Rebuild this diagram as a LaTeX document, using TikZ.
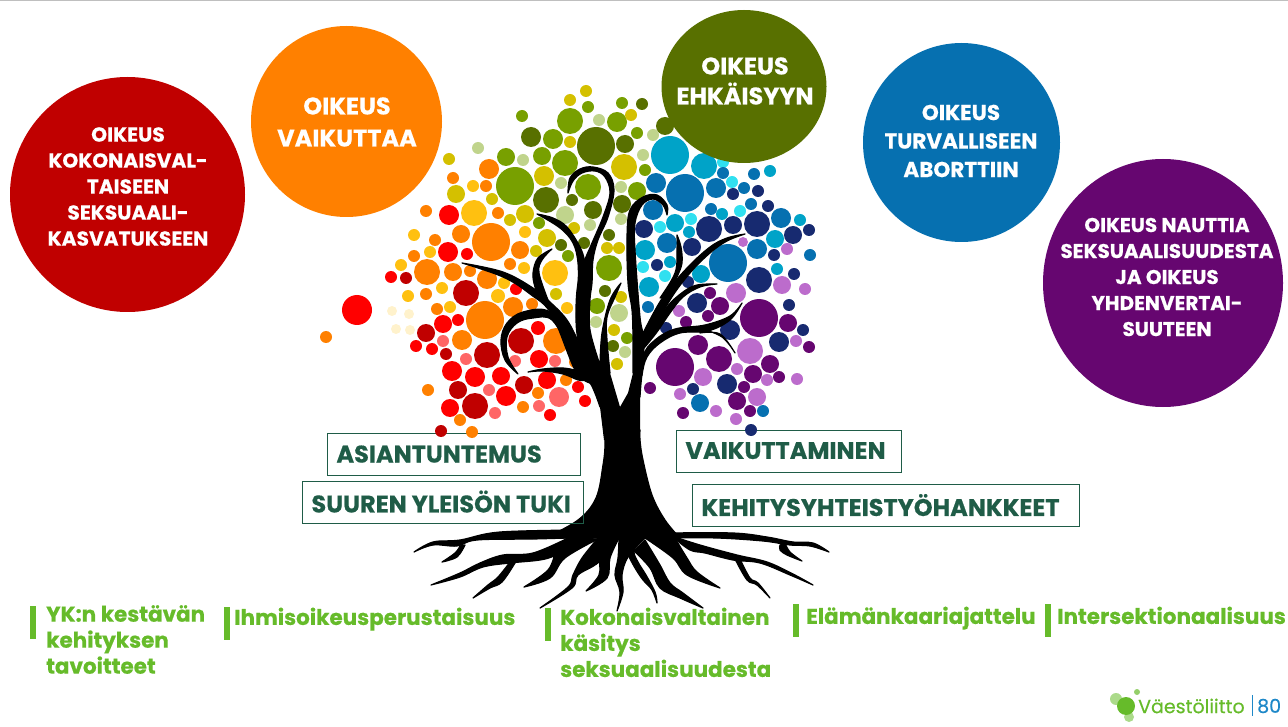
\documentclass[tikz,border=0pt]{standalone}
\usepackage{fontspec}
\setmainfont{Poppins}[BoldFeatures={FakeBold=0.5}]
\definecolor{cRedDark}{HTML}{C00000}
\definecolor{cRed}{HTML}{FF0000}
\definecolor{cPink}{HTML}{FF6666}
\definecolor{cOrange}{HTML}{FF8000}
\definecolor{cAmber}{HTML}{FFC010}
\definecolor{cCream}{HTML}{FFF2CC}
\definecolor{cMustard}{HTML}{D4C000}
\definecolor{cGreen}{HTML}{78A000}
\definecolor{cOlive}{HTML}{587000}
\definecolor{cSage}{HTML}{C0D48C}
\definecolor{cTeal}{HTML}{00A3C8}
\definecolor{cBlue}{HTML}{0670B0}
\definecolor{cNavy}{HTML}{172A70}
\definecolor{cAqua}{HTML}{30E0F0}
\definecolor{cPurple}{HTML}{660670}
\definecolor{cViolet}{HTML}{BC6CCC}
\definecolor{cBoxGreen}{HTML}{1F5C47}
\definecolor{cLime}{HTML}{66BB2A}
\definecolor{cLogoBlue}{HTML}{1E88C8}
\newcommand{\treeLimb}[2]{\filldraw[black, line width=1.2pt, line join=round] plot[smooth,tension=0.6] coordinates {#1} -- plot[smooth,tension=0.6] coordinates {#2} -- cycle;}
\newcommand{\leafDots}[2]{\foreach \x/\y/\r in {#2} {\fill[#1] (\x,\y) circle[radius=\r];}}

\begin{document}
\begin{tikzpicture}[x=1pt, y=-1pt]
	\tikzstyle{rightStyle}=[text=white, align=center, inner sep=0pt]
	\tikzstyle{boxStyle}=[draw=cBoxGreen, line width=0.9pt, text=cBoxGreen, anchor=west, minimum height=42pt, inner sep=0pt, align=left, font=\fontsize{24}{26}\selectfont\bfseries]
	\tikzstyle{barStyle}=[fill=cLime, minimum width=6pt, minimum height=33pt, inner sep=0pt]
	\tikzstyle{valueStyle}=[text=cLime, align=left, anchor=north west, inner sep=0pt, font=\fontsize{21.5}{26}\selectfont\bfseries]
	\useasboundingbox (0,0) rectangle (1288,727);
	\draw[black!25, line width=1pt] (0,0.5) -- (1288,0.5);
	% boxes behind the crown
	\node[boxStyle, text width=252.5pt] (boxExpert) at (327,454.5) {\hspace{9pt}\raisebox{1pt}{ASIANTUNTEMUS}};
	\node[boxStyle, text width=224.5pt] (boxAdvocacy) at (676,451) {\hspace{9pt}\raisebox{1pt}{VAIKUTTAMINEN}};
	% warm side of the crown
	\leafDots{cRed}{357/310/15,449/215/10,448/252/10,467/254/6,391/277/6,516/289/6,443/324/9,458/320/6,416/346/6,432/349/6,538/328/7,539/359/9,452/371/10,475/377/10,501/376/9,547/380/9,578/387/6,585/401/6,506/396/10,450/408/9,550/415/6}
	\leafDots{cRedDark}{406/278/6,466/293/13,426/333/9,446/354/6,487/355/13,521/341/13,524/385/9,458/390/9,475/406/13,441/431/6}
	\leafDots{cPink}{443/341/6,466/359/6,515/361/6,555/361/6,489/390/6,559/397/10,539/406/6,495/413/6}
	\leafDots{cOrange}{489/169/10,453/178/6,486/186/6,498/213/6,426/211/6,461/234/9,491/242/19,435/240/6,520/250/9,414/256/6,326/337/6,427/272/13,453/272/9,470/271/6,487/279/10,426/294/6,510/264/6,437/309/6,485/320/19,513/307/10,532/304/6,462/340/10,556/341/13,575/362/6,566/380/6,428/390/6,538/393/6,523/407/6,460/420/6,472/432/6}
	\leafDots{cAmber}{473/186/6,474/213/13,414/235/6,525/232/6,430/252/6,401/265/6,504/283/6,442/288/6,408/296/6,498/296/7,524/268/6,450/307/6,555/273/13,567/308/6}
	\leafDots{cCream}{392/311/5,409/314/5,396/329/5,410/330/5}
	% green top of the crown
	\leafDots{cGreen}{522/116/6,553/139/10,570/121/13,542/156/9,506/157/9,565/163/13,515/186/19,539/223/6,568/256/6,588/107/6,622/103/6,617/122/10,637/133/6,645/170/6,588/187/13,637/191/9,609/268/13,597/306/8,627/338/6}
	\leafDots{cOlive}{531/137/10,546/200/13,572/200/6,561/245/6,642/104/6,596/146/19,625/144/9,665/126/9,622/204/9,593/210/9,609/235/6,584/243/6,605/291/6,613/346/6}
	\leafDots{cMustard}{570/100/6,570/142/6,449/159/6,456/194/9,544/176/10,492/199/6,525/214/9,510/220/6,574/228/6,547/238/9,536/251/6,586/91/6,631/115/6,624/167/13,607/248/6,619/248/6,556/294/6,621/297/6,614/330/6,617/364/6}
	\leafDots{cSage}{478/148/6,523/160/6,561/183/6,565/215/9,599/120/6,653/135/6,643/155/6,621/187/6,621/219/6,590/225/6,619/313/9,596/322/6,625/352/6}
	% cold side of the crown
	\leafDots{cAqua}{723/162/6,732/182/6,740/211/6,691/219/6,660/227/6,643/267/6,665/276/6}
	\leafDots{cTeal}{670/155/19,704/166/13,770/171/6,722/214/6,800/220/6,675/223/9,689/232/6,775/239/9,645/250/10,649/287/10,670/262/6,701/274/9,777/269/6}
	\leafDots{cBlue}{723/173/6,656/183/10,685/193/19,716/188/10,754/174/6,744/188/6,653/210/10,711/209/6,751/204/6,781/218/10,667/243/10,757/249/10,810/255/6,728/263/19,648/307/6,700/403/9,763/411/6}
	\leafDots{cNavy}{733/194/6,758/191/6,768/206/6,809/230/6,793/235/9,757/224/13,733/225/9,709/229/13,644/229/9,692/247/9,774/255/6,657/265/6,688/282/6,759/280/13,794/274/6,697/303/10,666/328/6,789/305/6,730/330/10,803/330/6,779/342/10,727/384/10,693/389/6,751/430/6}
	\leafDots{cViolet}{743/242/5,787/249/6,782/285/9,805/289/6,736/293/10,679/311/6,750/351/13,796/341/6,737/369/6,703/377/9,767/380/6,797/379/6,680/394/6,757/397/9,716/411/6,736/419/6}
	\leafDots{cPurple}{710/293/6,720/306/9,708/316/6,686/322/6,759/318/19,788/323/9,809/347/6,698/345/10,719/359/13,675/367/19,770/364/9,753/374/9,779/377/6,744/387/6,650/388/6,737/401/9,683/413/6,750/411/6}
	% trunk and limbs
	\treeLimb{(604,430)(605,445)(603,465)(596,498)(578,520)(545,538)}{(680,538)(665,520)(652,495)(643,460)(640,440)(640,430)}
	\fill[black] (590,373) -- (600,360) -- (607,340) -- (610,373) -- (620,407) -- (628,393) -- (633,373) -- (633,340) -- (644,340) -- (640,397) -- (640,440) -- (604,440) -- (600,407) -- cycle;
	\treeLimb{(600,365)(590,330)(590,300)(592,283)(593,260)(598,240)(608,217)(614,190)(608,173)(593,167)(580,169)(570,178)(568,193)}{(568,193)(573,181)(582,173)(595,171)(605,177)(610,193)(603,217)(592,243)(584,262)(578,283)(576,310)(578,340)(590,383)}
	\treeLimb{(590,285)(585,262)(580,247)(567,227)(553,218)(537,214)}{(537,214)(560,228)(573,243)(578,263)(578,290)}
	\treeLimb{(462,263)(503,272)(533,288)(550,302)(567,320)(580,345)(594,375)}{(590,383)(575,370)(552,315)(530,294)(503,277)(462,263)}
	\treeLimb{(552,249)(538,258)(533,273)(535,287)(540,296)}{(548,300)(539,273)(542,260)(552,249)}
	\treeLimb{(575,345)(550,312)(523,312)(507,323)(501,340)(505,360)(518,374)}{(518,374)(508,357)(507,337)(517,323)(533,318)(552,320)(570,350)}
	\treeLimb{(528,372)(543,369)(563,368)(578,371)(590,376)(600,390)}{(600,407)(590,383)(578,380)(563,374)(543,371)(528,372)}
	\treeLimb{(600,365)(602,333)(610,300)(621,283)}{(621,283)(615,297)(607,317)(607,340)(610,373)}
	\treeLimb{(633,373)(633,340)(632,310)(628,283)(627,237)(630,210)(643,197)(657,195)(667,205)(667,215)}{(667,215)(663,205)(653,199)(642,205)(635,223)(635,250)(640,317)(644,340)(642,375)}
	\treeLimb{(640,340)(643,333)(663,297)(687,268)(710,247)(727,238)(745,234)}{(745,234)(727,241)(710,253)(690,273)(670,300)(650,337)(642,352)}
	\treeLimb{(677,235)(681,247)(682,263)(677,277)(668,296)}{(660,298)(675,273)(677,250)(677,235)}
	\treeLimb{(648,335)(652,333)(667,307)(683,292)(697,285)(717,284)}{(717,284)(700,287)(683,297)(670,313)(657,332)(645,347)}
	\treeLimb{(640,397)(643,357)(655,340)(675,329)(705,325)(730,316)(742,303)}{(742,303)(730,320)(708,331)(680,333)(660,343)(647,357)(642,375)(640,397)}
	\treeLimb{(700,328)(722,337)(735,353)}{(735,353)(720,334)(700,333)}
	% roots
	\treeLimb{(583,530)(500,532)(460,540)(433,542)(414,552)}{(414,552)(433,545)(457,546)(477,540)(533,539)(568,538)}
	\treeLimb{(460,546)(455,553)(442,562)}{(442,562)(457,557)(465,545)}
	\treeLimb{(568,538)(533,553)(503,555)(480,563)(460,573)(431,585)}{(431,585)(460,577)(483,567)(510,563)(540,560)(557,555)(598,539)}
	\treeLimb{(510,562)(498,577)(488,585)(473,598)}{(473,598)(490,588)(502,582)(515,563)}
	\treeLimb{(555,552)(548,570)(524,587)}{(524,587)(550,578)(565,558)(598,539)}
	\treeLimb{(598,538)(582,558)(573,575)(568,587)(540,608)}{(540,608)(572,588)(578,575)(599,562)(619,538)}
	\treeLimb{(599,560)(599,575)(586,591)}{(586,591)(607,578)(610,558)(619,538)}
	\treeLimb{(619,538)(618,558)(615,575)(620,592)(617,611)}{(617,611)(623,592)(622,575)(628,557)(645,538)}
	\treeLimb{(628,555)(635,568)(643,580)(652,590)(657,603)}{(657,603)(655,592)(646,575)(638,562)(634,551)(640,538)}
	\treeLimb{(634,551)(650,568)(660,588)(680,598)(703,608)}{(703,608)(683,593)(670,583)(660,565)(645,540)}
	\treeLimb{(645,538)(673,558)(687,575)(720,588)}{(720,588)(697,572)(687,558)(675,538)}
	\treeLimb{(673,537)(690,550)(705,553)(733,560)(760,563)(790,575)(813,585)}{(813,585)(793,574)(767,562)(737,555)(700,545)(675,537)}
	\treeLimb{(735,559)(747,580)(757,585)(770,598)}{(770,598)(758,583)(750,578)(740,559)}
	\treeLimb{(670,533)(733,533)(767,537)(793,542)(813,543)(829,552)}{(829,552)(810,546)(790,545)(763,541)(717,538)(674,538)}
	\treeLimb{(780,545)(780,550)(787,555)(802,561)}{(802,561)(790,552)(785,543)}
	% box in front of the trunk
	\node[boxStyle, text width=280.5pt] (boxSupport) at (302,502) {\hspace{9pt}\raisebox{1pt}{SUUREN\kern-3pt\ YLEISÖN\kern-3pt\ TUKI}};
	\node[boxStyle, text width=386.5pt] (boxProjects) at (692,505.5) {\hspace{9pt}\raisebox{1pt}{KEHITYSYHTEISTYÖHANKKEET}};
	% rights
	\fill[cRedDark] (127.5,194.5) circle[radius=117.5];
	\fill[cOrange] (346.5,121.5) circle[radius=95.5];
	\fill[cOlive] (744,86.5) ellipse[x radius=82.5, y radius=76.5];
	\fill[cBlue] (961.5,142.5) ellipse[x radius=98.5, y radius=99.5];
	\fill[cPurple] (1163,283) ellipse[x radius=120, y radius=124];
	\node[rightStyle, font=\fontsize{20.2}{26}\selectfont\bfseries] (rightEducation) at (128,186.5) {OIKEUS\\KOKONAISVAL-\\TAISEEN\\SEKSUAALI-\\KASVATUKSEEN};
	\node[rightStyle, font=\fontsize{24}{32}\selectfont\bfseries] (rightInfluence) at (347,122) {OIKEUS\\VAIKUTTAA};
	\node[rightStyle, font=\fontsize{24}{30}\selectfont\bfseries] (rightPrevention) at (745,81) {OIKEUS\\EHKÄISYYN};
	\node[rightStyle, font=\fontsize{21.5}{28.5}\selectfont\bfseries] (rightAbortion) at (961,141) {OIKEUS\\TURVALLISEEN\\ABORTTIIN};
	\node[rightStyle, font=\fontsize{20}{26}\selectfont\bfseries] (rightPleasure) at (1167,277) {OIKEUS NAUTTIA\\SEKSUAALISUUDESTA\\JA OIKEUS\\YHDENVERTAI-\\SUUTEEN};
	% values
	\node[barStyle] (barGoals) at (33,622.5) {};
	\node[barStyle] (barHuman) at (227,623.5) {};
	\node[barStyle] (barWhole) at (548,624.5) {};
	\node[barStyle] (barLife) at (796,620) {};
	\node[barStyle] (barCross) at (1048,620) {};
	\node[valueStyle] (valGoals) at (46,605) {YK:n kestävän\\kehityksen\\tavoitteet};
	\node[valueStyle] (valHuman) at (234,607.5) {Ihmisoikeusperustaisuus};
	\node[valueStyle] (valWhole) at (560,607.5) {Kokonaisvaltainen\\käsitys\\seksuaalisuudesta};
	\node[valueStyle] (valLife) at (806,606.5) {Elämänkaariajattelu};
	\node[valueStyle] (valCross) at (1057,606.5) {Intersektionaalisuus};
	% logo
	\fill[cLime!55] (1116,699) circle[radius=6];
	\fill[cLime!55] (1129,717) circle[radius=5];
	\fill[cLime!70] (1137,692) circle[radius=3];
	\fill[cLime] (1126,706) circle[radius=9];
	\node[text=cLime, anchor=west, inner sep=0pt, font=\fontsize{19}{20}\selectfont\addfontfeature{FakeBold=0.3}] (logoName) at (1138,706) {Väestöliitto};
	\draw[cLogoBlue, line width=0.6pt] (1252,695) -- (1252,716);
	\node[text=cLogoBlue, anchor=west, inner sep=0pt, font=\fontsize{19}{20}\selectfont\addfontfeature{FakeBold=0.3}] (logoYears) at (1257,706) {80};
\end{tikzpicture}
\end{document}
